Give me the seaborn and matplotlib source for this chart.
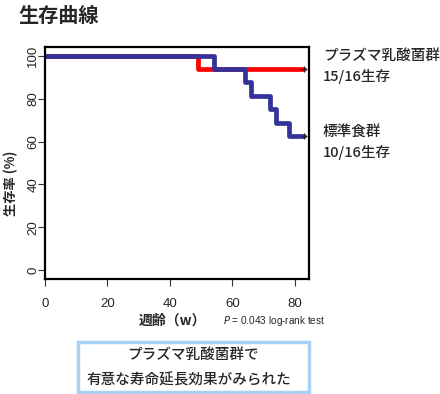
import matplotlib
matplotlib.use("Agg")
import matplotlib.pyplot as plt
import seaborn as sns
import pandas as pd
from matplotlib.patches import Rectangle

# Data
red_weeks = [0, 49, 83]
red_surv = [100, 93.75, 93.75]
blue_weeks = [0, 54, 64, 66, 72, 74, 78, 83]
blue_surv = [100, 93.75, 87.5, 81.25, 75, 68.75, 62.5, 62.5]
group_names = ["プラズマ乳酸菌群", "標準食群"]
group_notes = ["15/16生存", "10/16生存"]
x_ticks = [0, 20, 40, 60, 80]
y_ticks = [0, 20, 40, 60, 80, 100]

sns.set_style("white")
plt.rcParams['font.family'] = ['Noto Sans CJK JP', 'DejaVu Sans']

df = pd.concat([
    pd.DataFrame({"week": red_weeks, "surv": red_surv, "group": group_names[0]}),
    pd.DataFrame({"week": blue_weeks, "surv": blue_surv, "group": group_names[1]}),
])

fig = plt.figure(figsize=(4.4, 3.94), dpi=100)
ax = fig.add_axes([45/440, 1-279/394, (309-45)/440, (279-47)/394])

palette = {group_names[0]: "#ff0000", group_names[1]: "#333399"}
sns.lineplot(data=df, x="week", y="surv", hue="group", palette=palette,
             drawstyle="steps-post", linewidth=3.4, legend=False, ax=ax,
             estimator=None, sort=False)
for g, c in palette.items():
    sub = df[df.group == g].iloc[[-1]]
    ax.plot(sub.week, sub.surv, marker="+", color="#222222", markersize=4, mew=0.8, ls="none")

ax.set_xlim(0, 84.5)
ax.set_ylim(-4, 104)
ax.set_xticks(x_ticks)
ax.set_yticks(y_ticks)
tickfont = ['Liberation Sans Narrow', 'Liberation Sans', 'DejaVu Sans']
ax.set_xticklabels([str(t) for t in x_ticks], fontsize=9.5, family=tickfont)
ax.set_yticklabels([str(t) for t in y_ticks], fontsize=9.5, family=tickfont,
                   rotation=90, va="center", ha="center")
ax.tick_params(axis="both", direction="out", length=5, width=0.8, color="#333333",
               bottom=True, left=True)
ax.tick_params(axis="x", pad=9)
ax.tick_params(axis="y", pad=3.5)
for s in ax.spines.values():
    s.set_linewidth(1.6)
    s.set_color("black")
ax.set_xlabel("")
ax.set_ylabel("")

# Texts
fig.text(18/440, 1-15/394, "生存曲線", fontsize=14.5, fontweight="bold", va="center", ha="left")
fig.text(11/440, 1-183/394, "生存率 (%)", fontsize=9.5, fontweight="bold", rotation=90,
         va="center", ha="center")
fig.text(172/440, 1-321/394, "週齢（w）", fontsize=10, fontweight="bold", va="center", ha="center")
fig.text(223/440, 1-321/394, "$P$ = 0.043 log-rank test", fontsize=7.2, va="center", ha="left",
         family=tickfont)

fw = "medium"
fig.text(323/440, 1-56/394, group_names[0], fontsize=10.5, fontweight=fw, va="center", ha="left")
fig.text(323/440, 1-76/394, group_notes[0], fontsize=10.5, fontweight=fw, va="center", ha="left")
fig.text(323/440, 1-132/394, group_names[1], fontsize=10.5, fontweight=fw, va="center", ha="left")
fig.text(323/440, 1-152/394, group_notes[1], fontsize=10.5, fontweight=fw, va="center", ha="left")

box = Rectangle((78/440, 1-392/394), (309-78)/440, (392-342)/394, transform=fig.transFigure,
                fill=False, edgecolor="#a9d1f5", linewidth=2.5)
fig.patches.append(box)
fig.text(193/440, 1-355/394, "プラズマ乳酸菌群で", fontsize=10.5, fontweight=fw, va="center", ha="center")
fig.text(189/440, 1-380/394, "有意な寿命延長効果がみられた", fontsize=10.5, fontweight=fw, va="center", ha="center")

fig.savefig("out.png", dpi=100)
